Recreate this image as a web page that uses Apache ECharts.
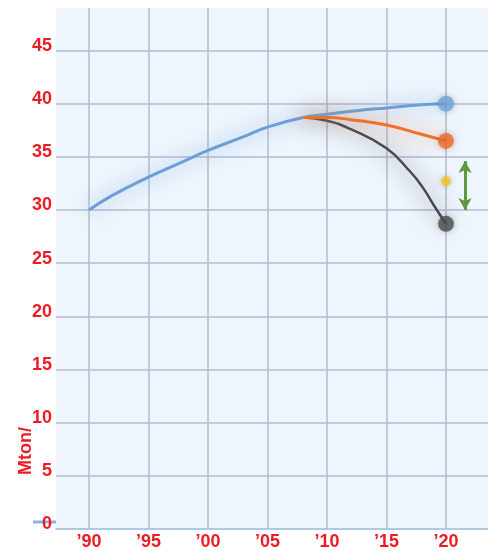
<!DOCTYPE html>
<html>
<head>
<meta charset="utf-8">
<script src="https://cdn.jsdelivr.net/npm/echarts@6/dist/echarts.min.js"></script>
<style>
  html, body { margin: 0; padding: 0; background: #fff; }
  #main { width: 488px; height: 551px; }
</style>
</head>
<body>
<div id="main"></div>
<script>
// data
var blueYears = [1990, 1992, 1995, 1998, 2000, 2003, 2005, 2008, 2010, 2013, 2015, 2018, 2020];
var blueValues = [30.0, 31.4, 33.1, 34.6, 35.6, 36.9, 37.8, 38.7, 39.0, 39.4, 39.6, 39.9, 40.0];
var orangeYears = [2008, 2010, 2012, 2015, 2018, 2020];
var orangeValues = [38.7, 38.7, 38.5, 38.0, 37.1, 36.5];
var greyYears = [2008, 2010, 2012, 2015, 2017, 2018, 2019, 2020];
var greyValues = [38.7, 38.4, 37.6, 35.8, 33.6, 32.2, 30.4, 28.7];
var yellowPoint = [2020, 32.7];
var arrowRange = { x: 2021.6, top: 34.6, bottom: 30.0 };
var xTickLabels = { 1990: "’90", 1995: "’95", 2000: "’00", 2005: "’05", 2010: "’10", 2015: "’15", 2020: "’20" };

var red = "#ec1c24";

function pairs(xs, ys) {
  return xs.map(function (x, i) { return [x, ys[i]]; });
}
function last(xs, ys) {
  return [xs[xs.length - 1], ys[ys.length - 1]];
}

var chart = echarts.init(document.getElementById("main"));
var option = {
  animation: false,
  grid: {
    left: 56,
    right: 0,
    top: 8,
    bottom: 19,
    show: true,
    backgroundColor: "#eef5fc",
    borderWidth: 0
  },
  xAxis: {
    type: "value",
    min: 1987.23,
    max: 2023.53,
    minInterval: 5,
    maxInterval: 5,
    splitNumber: 7,
    axisLine: { show: true, lineStyle: { color: "#a9c8e8", width: 1.5 } },
    axisTick: { show: false },
    splitLine: {
      show: true,
      showMinLine: false,
      showMaxLine: false,
      lineStyle: { color: "#b3bbd0", width: 1.5 }
    },
    axisLabel: {
      showMinLabel: false,
      showMaxLabel: false,
      margin: 4,
      color: red,
      fontWeight: "bold",
      fontSize: 18,
      fontFamily: "Liberation Sans, Arial, sans-serif",
      formatter: function (v) { return xTickLabels[Math.round(v)] || ""; }
    }
  },
  yAxis: {
    type: "value",
    min: 0,
    max: 49,
    interval: 5,
    axisLine: { show: false },
    axisTick: { show: false },
    splitLine: {
      show: true,
      showMaxLine: false,
      lineStyle: { color: "#b3bbd0", width: 1.5 }
    },
    axisLabel: {
      showMaxLabel: false,
      margin: 4,
      verticalAlign: "bottom",
      lineHeight: 9,
      color: red,
      fontWeight: "bold",
      fontSize: 18,
      fontFamily: "Liberation Sans, Arial, sans-serif"
    }
  },
  series: [
    {
      name: "blue",
      type: "line",
      smooth: true,
      showSymbol: false,
      data: pairs(blueYears, blueValues),
      lineStyle: {
        color: "#6d9fd6",
        width: 3,
        shadowBlur: 18,
        shadowColor: "rgba(110,160,220,0.9)"
      },
      z: 3
    },
    {
      name: "orange",
      type: "line",
      smooth: true,
      showSymbol: false,
      data: pairs(orangeYears, orangeValues),
      lineStyle: {
        color: "#ef7127",
        width: 3,
        shadowBlur: 18,
        shadowColor: "rgba(230,120,50,0.85)"
      },
      z: 4
    },
    {
      name: "grey",
      type: "line",
      smooth: true,
      showSymbol: false,
      data: pairs(greyYears, greyValues),
      lineStyle: {
        color: "#4a4a4c",
        width: 2.5,
        shadowBlur: 22,
        shadowColor: "rgba(50,50,50,0.9)"
      },
      z: 2
    },
    {
      name: "ends",
      type: "scatter",
      symbolSize: 16,
      data: [
        { value: last(blueYears, blueValues), itemStyle: { color: "#6fa3dc" } },
        { value: last(orangeYears, orangeValues), itemStyle: { color: "#f26a22" } },
        { value: last(greyYears, greyValues), itemStyle: { color: "#4c4c4e" } },
        { value: yellowPoint, symbolSize: 10, itemStyle: { color: "#f7c21b" } }
      ],
      itemStyle: { shadowBlur: 6, shadowColor: "rgba(0,0,0,0.25)" },
      markLine: {
        silent: true,
        symbol: ["arrow", "arrow"],
        symbolSize: [10, 12],
        label: { show: false },
        lineStyle: { color: "#5a9a3c", width: 3, type: "solid" },
        data: [
          [
            { coord: [arrowRange.x, arrowRange.top] },
            { coord: [arrowRange.x, arrowRange.bottom] }
          ]
        ]
      },
      z: 5
    }
  ]
};
chart.setOption(option);

// axis title and the short blue mark next to the 0 label
var zeroY = chart.convertToPixel({ yAxisIndex: 0 }, 0);
chart.setOption({
  graphic: [
    {
      type: "text",
      left: 17,
      top: 427,
      rotation: Math.PI / 2,
      style: {
        text: "Mton/",
        fill: red,
        font: "bold 18px Liberation Sans, Arial, sans-serif"
      }
    },
    {
      type: "line",
      shape: { x1: 33, y1: zeroY - 7, x2: 56, y2: zeroY - 7 },
      style: { stroke: "#8db4e2", lineWidth: 3 }
    }
  ]
});
</script>
</body>
</html>
